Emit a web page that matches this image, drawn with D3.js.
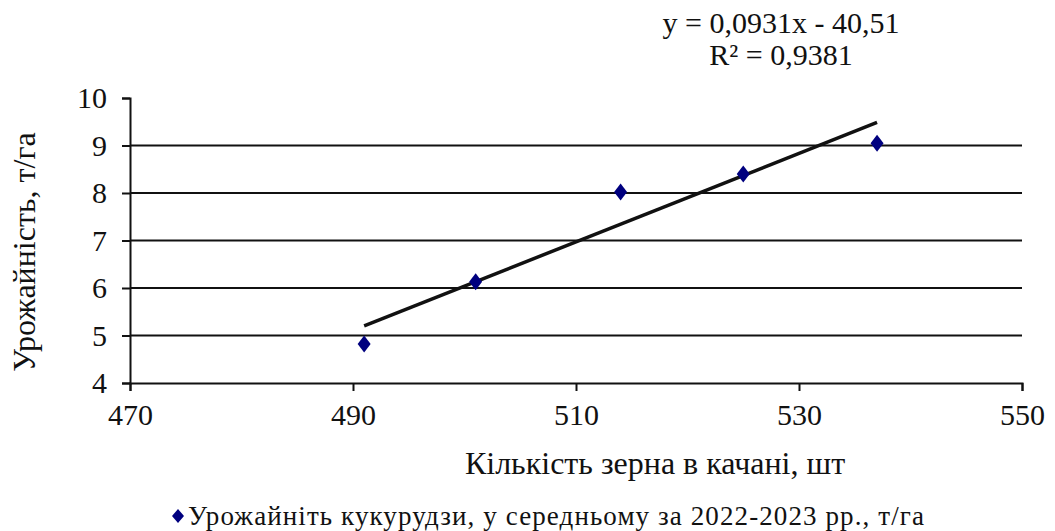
<!DOCTYPE html>
<html>
<head>
<meta charset="utf-8">
<script src="https://cdn.jsdelivr.net/npm/d3@7.9.0/dist/d3.min.js"></script>
<style>
  body { margin: 0; background: #fff; }
</style>
</head>
<body>
<svg id="chart"></svg>
<script>
const grains = [491, 501, 514, 525, 537];
const yields = [4.82, 6.13, 8.02, 8.4, 9.05];
const xTicks = [470, 490, 510, 530, 550];
const yTicks = [4, 5, 6, 7, 8, 9, 10];
const trendSlope = 0.0931;
const trendIntercept = -40.51;
const equationLines = ["y = 0,0931x - 40,51", "R² = 0,9381"];
const xTitle = "Кількість зерна в качані, шт";
const yTitle = "Урожайність, т/га";
const legendLabel = "Урожайніть кукурудзи, у середньому за 2022-2023 рр., т/га";

const FONT = "'Liberation Serif', 'DejaVu Serif', serif";
const W = 1055, H = 531;
const margin = { top: 98, right: 33, bottom: 148, left: 130 };
const width = W - margin.left - margin.right;
const height = H - margin.top - margin.bottom;

const svg = d3.select("#chart").attr("width", W).attr("height", H);
const g = svg.append("g").attr("transform", `translate(${margin.left},${margin.top})`);

const x = d3.scaleLinear().domain([470, 550]).range([0, width]);
const y = d3.scaleLinear().domain([4, 10]).range([height, 0]);

// horizontal gridlines
g.selectAll(".grid")
  .data(yTicks.filter((d) => d > 4 && d < 10))
  .join("line")
  .attr("x1", 0)
  .attr("x2", width)
  .attr("y1", (d) => y(d))
  .attr("y2", (d) => y(d))
  .attr("stroke", "#111")
  .attr("stroke-width", 2);

// axes
const yAxis = g.append("g")
  .call(d3.axisLeft(y).tickValues(yTicks).tickFormat(d3.format("d")).tickSize(8).tickPadding(8));
const xAxis = g.append("g")
  .attr("transform", `translate(0,${height})`)
  .call(d3.axisBottom(x).tickValues(xTicks).tickFormat(d3.format("d")).tickSize(8).tickPadding(8));

[xAxis, yAxis].forEach((a) => {
  a.attr("font-family", null);
  a.select(".domain").attr("stroke", "#111").attr("stroke-width", 2);
  a.selectAll(".tick line").attr("stroke", "#111").attr("stroke-width", 2);
  a.selectAll(".tick text")
    .style("font-family", FONT)
    .style("font-size", "30px")
    .attr("fill", "#111");
});
yAxis.selectAll(".tick text").attr("dy", "0.32em").attr("x", -23);
xAxis.selectAll(".tick text").attr("dy", "0.86em");

// trend line
const xr = d3.extent(grains);
g.append("line")
  .attr("x1", x(xr[0]))
  .attr("y1", y(trendSlope * xr[0] + trendIntercept))
  .attr("x2", x(xr[1]))
  .attr("y2", y(trendSlope * xr[1] + trendIntercept))
  .attr("stroke", "#111")
  .attr("stroke-width", 3.5);

// points
const diamond = "M0,-8.5L6.5,0L0,8.5L-6.5,0Z";
g.selectAll(".pt")
  .data(grains)
  .join("path")
  .attr("d", diamond)
  .attr("transform", (d, i) => `translate(${x(d)},${y(yields[i])})`)
  .attr("fill", "#00007f");

// equation
svg.append("text")
  .attr("text-anchor", "middle")
  .style("font-family", FONT)
  .style("font-size", "30px")
  .attr("fill", "#111")
  .selectAll("tspan")
  .data(equationLines)
  .join("tspan")
  .attr("x", 781)
  .attr("y", (d, i) => 33 + i * 32)
  .text((d) => d);

// axis titles
svg.append("text")
  .attr("x", 655)
  .attr("y", 474)
  .attr("text-anchor", "middle")
  .style("font-family", FONT)
  .style("font-size", "32px")
  .attr("fill", "#111")
  .text(xTitle);

svg.append("text")
  .attr("transform", "translate(35,252) rotate(-90)")
  .attr("text-anchor", "middle")
  .style("font-family", FONT)
  .style("font-size", "32px")
  .attr("fill", "#111")
  .text(yTitle);

// legend
const legend = svg.append("g").attr("transform", "translate(178,516)");
legend.append("path").attr("d", "M0,-7L6,0L0,7L-6,0Z").attr("fill", "#00007f");
legend.append("text")
  .attr("x", 10)
  .attr("y", 9)
  .style("font-family", FONT)
  .style("font-size", "27px")
  .style("letter-spacing", "1.1px")
  .attr("fill", "#111")
  .text(legendLabel);
</script>
</body>
</html>
